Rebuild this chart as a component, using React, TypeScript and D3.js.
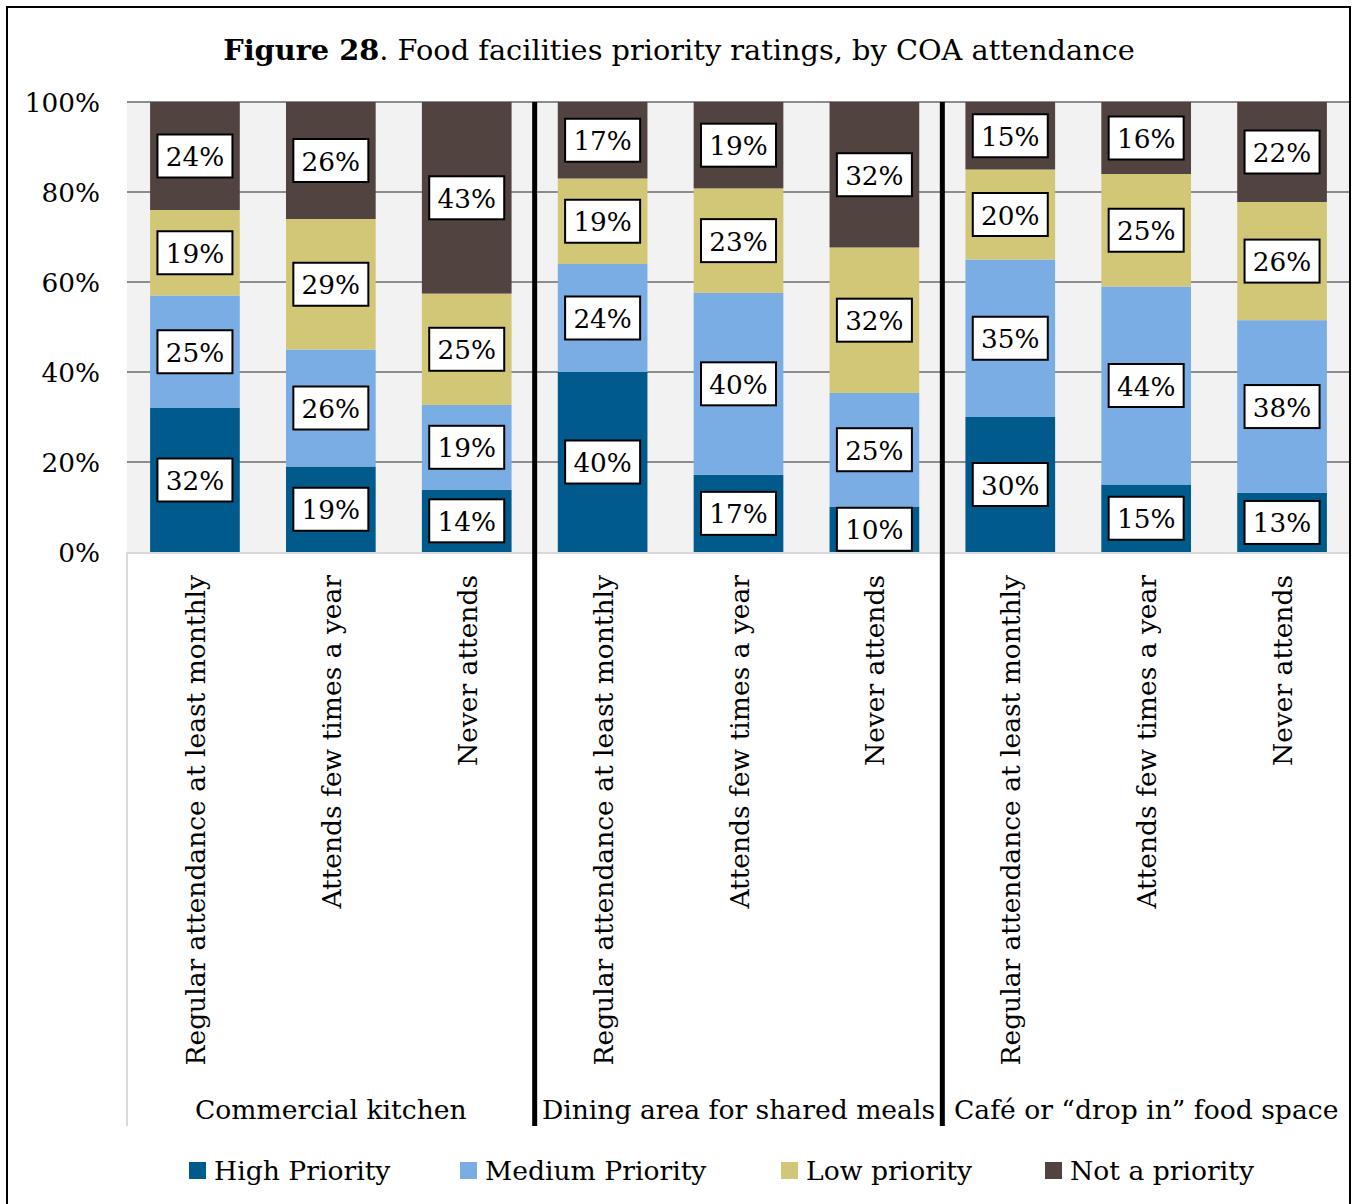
import React from "react";
import * as d3 from "d3";

const groups = ["Commercial kitchen", "Dining area for shared meals", "Café or “drop in” food space"];
const attendance = ["Regular attendance at least monthly", "Attends few times a year", "Never attends"];
const seriesNames = ["High Priority", "Medium Priority", "Low priority", "Not a priority"];
const highPriority = [32, 19, 14, 40, 17, 10, 30, 15, 13];
const mediumPriority = [25, 26, 19, 24, 40, 25, 35, 44, 38];
const lowPriority = [19, 29, 25, 19, 23, 32, 20, 25, 26];
const notPriority = [24, 26, 43, 17, 19, 32, 15, 16, 22];
const yTicks = [0, 20, 40, 60, 80, 100];
const colors = ["#005A8B", "#79ADE3", "#D2C777", "#514340"];

const W = 1353;
const H = 1204;
const FONT = "'DejaVu Serif', serif";
const M = { left: 127, right: 1350, top: 102, bottom: 552 };
const axisBottom = 1126;
const legendX = [189, 460, 781, 1045];

export default function App() {
  const rows = highPriority.map((_, i) => ({
    idx: i,
    label: attendance[i % 3],
    group: groups[Math.floor(i / 3)],
    s0: highPriority[i],
    s1: mediumPriority[i],
    s2: lowPriority[i],
    s3: notPriority[i],
  }));
  const keys = ["s0", "s1", "s2", "s3"];
  const stack = d3.stack<any>().keys(keys).offset(d3.stackOffsetExpand);
  const series = stack(rows);

  const x = d3
    .scaleBand<number>()
    .domain(rows.map((r) => r.idx))
    .range([M.left, M.right])
    .paddingInner(0.34)
    .paddingOuter(0.17);
  const y = d3.scaleLinear().domain([0, 1]).range([M.bottom, M.top]);
  const step = x.step();
  const bw = x.bandwidth();

  const sepX = [1, 2].map((g) => M.left + step * 3 * g);
  const groupCenters = groups.map((_, g) => M.left + step * (3 * g + 1.5));

  return (
    <div style={{ position: "absolute", left: 0, top: 0 }}>
      <svg width={W} height={H} style={{ display: "block", fontFamily: FONT }}>
        <rect x={0} y={0} width={W} height={H} fill="#fff" />
        <rect x={M.left} y={M.top} width={M.right - M.left} height={M.bottom - M.top} fill="#F2F2F2" />
        {yTicks.slice(1).map((t) => (
          <line key={t} x1={M.left} x2={M.right} y1={y(t / 100)} y2={y(t / 100)} stroke="#8C8C8C" strokeWidth={2} />
        ))}
        {series.map((s, si) =>
          s.map((d: any, i: number) => (
            <rect
              key={si + "-" + i}
              x={x(rows[i].idx)}
              y={y(d[1])}
              width={bw}
              height={y(d[0]) - y(d[1])}
              fill={colors[si]}
            />
          ))
        )}
        <line x1={M.left} x2={M.right} y1={M.bottom + 1} y2={M.bottom + 1} stroke="#D9D9D9" strokeWidth={2} />
        <line x1={M.left} x2={M.left} y1={M.bottom} y2={axisBottom} stroke="#D9D9D9" strokeWidth={2} />
        {sepX.map((sx) => (
          <line key={sx} x1={sx} x2={sx} y1={M.top} y2={axisBottom} stroke="#000" strokeWidth={5} />
        ))}
        {series.map((s, si) =>
          s.map((d: any, i: number) => {
            const cx = (x(rows[i].idx) as number) + bw / 2;
            const cy = (y(d[0]) + y(d[1])) / 2;
            const v = (rows[i] as any)[keys[si]];
            return (
              <g key={"l" + si + "-" + i}>
                <rect x={cx - 37.5} y={cy - 21.5} width={75} height={43} fill="#fff" stroke="#000" strokeWidth={2} />
                <text x={cx} y={cy + 10} textAnchor="middle" fontSize={26.3} fill="#000">
                  {v}%
                </text>
              </g>
            );
          })
        )}
        {yTicks.map((t) => (
          <text key={t} x={100} y={y(t / 100) + 10} textAnchor="end" fontSize={26.3} fill="#000">
            {t}%
          </text>
        ))}
        {rows.map((r) => {
          const cx = (x(r.idx) as number) + bw / 2 + 10;
          return (
            <text
              key={"c" + r.idx}
              transform={`translate(${cx},${575}) rotate(-90)`}
              textAnchor="end"
              fontSize={26.5}
              fill="#000"
            >
              {r.label}
            </text>
          );
        })}
        {groups.map((g, gi) => (
          <text key={g} x={groupCenters[gi]} y={1119} textAnchor="middle" fontSize={26.6} fill="#000">
            {g}
          </text>
        ))}
        {seriesNames.map((n, i) => (
          <g key={n}>
            <rect x={legendX[i]} y={1162} width={17} height={17} fill={colors[i]} />
            <text x={legendX[i] + 25} y={1180} fontSize={26.6} fill="#000">
              {n}
            </text>
          </g>
        ))}
        <text x={679} y={60} textAnchor="middle" fontSize={28.8} fill="#000">
          <tspan fontWeight="bold">Figure 28</tspan>
          <tspan>. Food facilities priority ratings, by COA attendance</tspan>
        </text>
        <path d={`M7,1210 L7,7 L1350,7 L1350,1210`} fill="none" stroke="#000" strokeWidth={2} />
      </svg>
    </div>
  );
}
